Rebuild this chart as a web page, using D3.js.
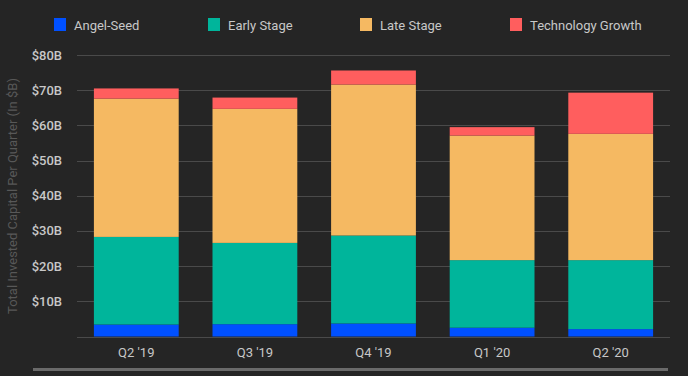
<!DOCTYPE html>
<meta charset="utf-8">
<style>
  body { margin: 0; background: #252525; }
  text { font-family: Roboto, "Liberation Sans", sans-serif; }
</style>
<body>
<svg width="688" height="376"></svg>
<script src="https://d3js.org/d3.v7.min.js"></script>
<script>

// data, in $B
var quarters = ["Q2 '19", "Q3 '19", "Q4 '19", "Q1 '20", "Q2 '20"];
var stages = ["Angel-Seed", "Early Stage", "Late Stage", "Technology Growth"];
var angelSeed = [3.4, 3.5, 3.7, 2.5, 2.1];
var earlyStage = [24.9, 23.1, 25.0, 19.2, 19.6];
var lateStage = [39.3, 38.1, 42.9, 35.4, 35.9];
var techGrowth = [2.9, 3.2, 4.0, 2.4, 11.7];
var yTicks = [10, 20, 30, 40, 50, 60, 70, 80];

var colors = ["#0050ff", "#00b59b", "#f5b962", "#ff5e5e"];

var rows = quarters.map(function(q, i) {
  return {
    quarter: q,
    "Angel-Seed": angelSeed[i],
    "Early Stage": earlyStage[i],
    "Late Stage": lateStage[i],
    "Technology Growth": techGrowth[i]
  };
});

var svg = d3.select("svg");
var plotLeft = 77, plotRight = 670, plotTop = 55, plotBottom = 336.5;

var x = d3.scaleBand()
  .domain(quarters)
  .range([plotLeft, plotRight])
  .paddingInner(0.285)
  .paddingOuter(0.1425);

var y = d3.scaleLinear()
  .domain([0, 80])
  .range([plotBottom, plotTop]);

var color = d3.scaleOrdinal().domain(stages).range(colors);

// grid
svg.append("g")
  .selectAll("line")
  .data([0].concat(yTicks))
  .join("line")
  .attr("x1", plotLeft)
  .attr("x2", plotRight)
  .attr("y1", function(d) { return Math.round(y(d)) + 0.5; })
  .attr("y2", function(d) { return Math.round(y(d)) + 0.5; })
  .attr("stroke", "#4a4a4a")
  .attr("stroke-width", 1);

// y tick labels
svg.append("g")
  .selectAll("text")
  .data(yTicks)
  .join("text")
  .attr("x", 62)
  .attr("y", function(d) { return y(d); })
  .attr("dy", "0.35em")
  .attr("text-anchor", "end")
  .attr("fill", "#c8c8c8")
  .style("font-size", "13px")
  .style("font-weight", "500")
  .text(function(d) { return "$" + d + "B"; });

// y title
svg.append("text")
  .attr("transform", "translate(17,196) rotate(-90)")
  .attr("text-anchor", "middle")
  .attr("fill", "#585858")
  .style("font-size", "13px")
  .text("Total Invested Capital Per Quarter (In $B)");

// stacked bars
var series = d3.stack().keys(stages)(rows);

svg.append("g")
  .selectAll("g")
  .data(series)
  .join("g")
  .attr("fill", function(d) { return color(d.key); })
  .selectAll("rect")
  .data(function(d) { return d; })
  .join("rect")
  .attr("x", function(d) { return x(d.data.quarter); })
  .attr("y", function(d) { return y(d[1]); })
  .attr("width", x.bandwidth())
  .attr("height", function(d) { return y(d[0]) - y(d[1]); });

// x labels
svg.append("g")
  .selectAll("text")
  .data(quarters)
  .join("text")
  .attr("x", function(d) { return x(d) + x.bandwidth() / 2; })
  .attr("y", 357)
  .attr("text-anchor", "middle")
  .attr("fill", "#c8c8c8")
  .style("font-size", "13px")
  .text(function(d) { return d; });

// legend
var legendX = [54, 208, 360, 510];
var legend = svg.append("g")
  .selectAll("g")
  .data(stages)
  .join("g")
  .attr("transform", function(d, i) { return "translate(" + legendX[i] + ",18)"; });

legend.append("rect")
  .attr("width", 12)
  .attr("height", 13)
  .attr("fill", function(d) { return color(d); });

legend.append("text")
  .attr("x", 20)
  .attr("y", 7)
  .attr("dy", "0.35em")
  .attr("fill", "#c8c8c8")
  .style("font-size", "13px")
  .text(function(d) { return d; });

// bottom bar
svg.append("line")
  .attr("x1", 33)
  .attr("x2", 668)
  .attr("y1", 369.5)
  .attr("y2", 369.5)
  .attr("stroke", "#6a6a6a")
  .attr("stroke-width", 3);

</script>
</body>
